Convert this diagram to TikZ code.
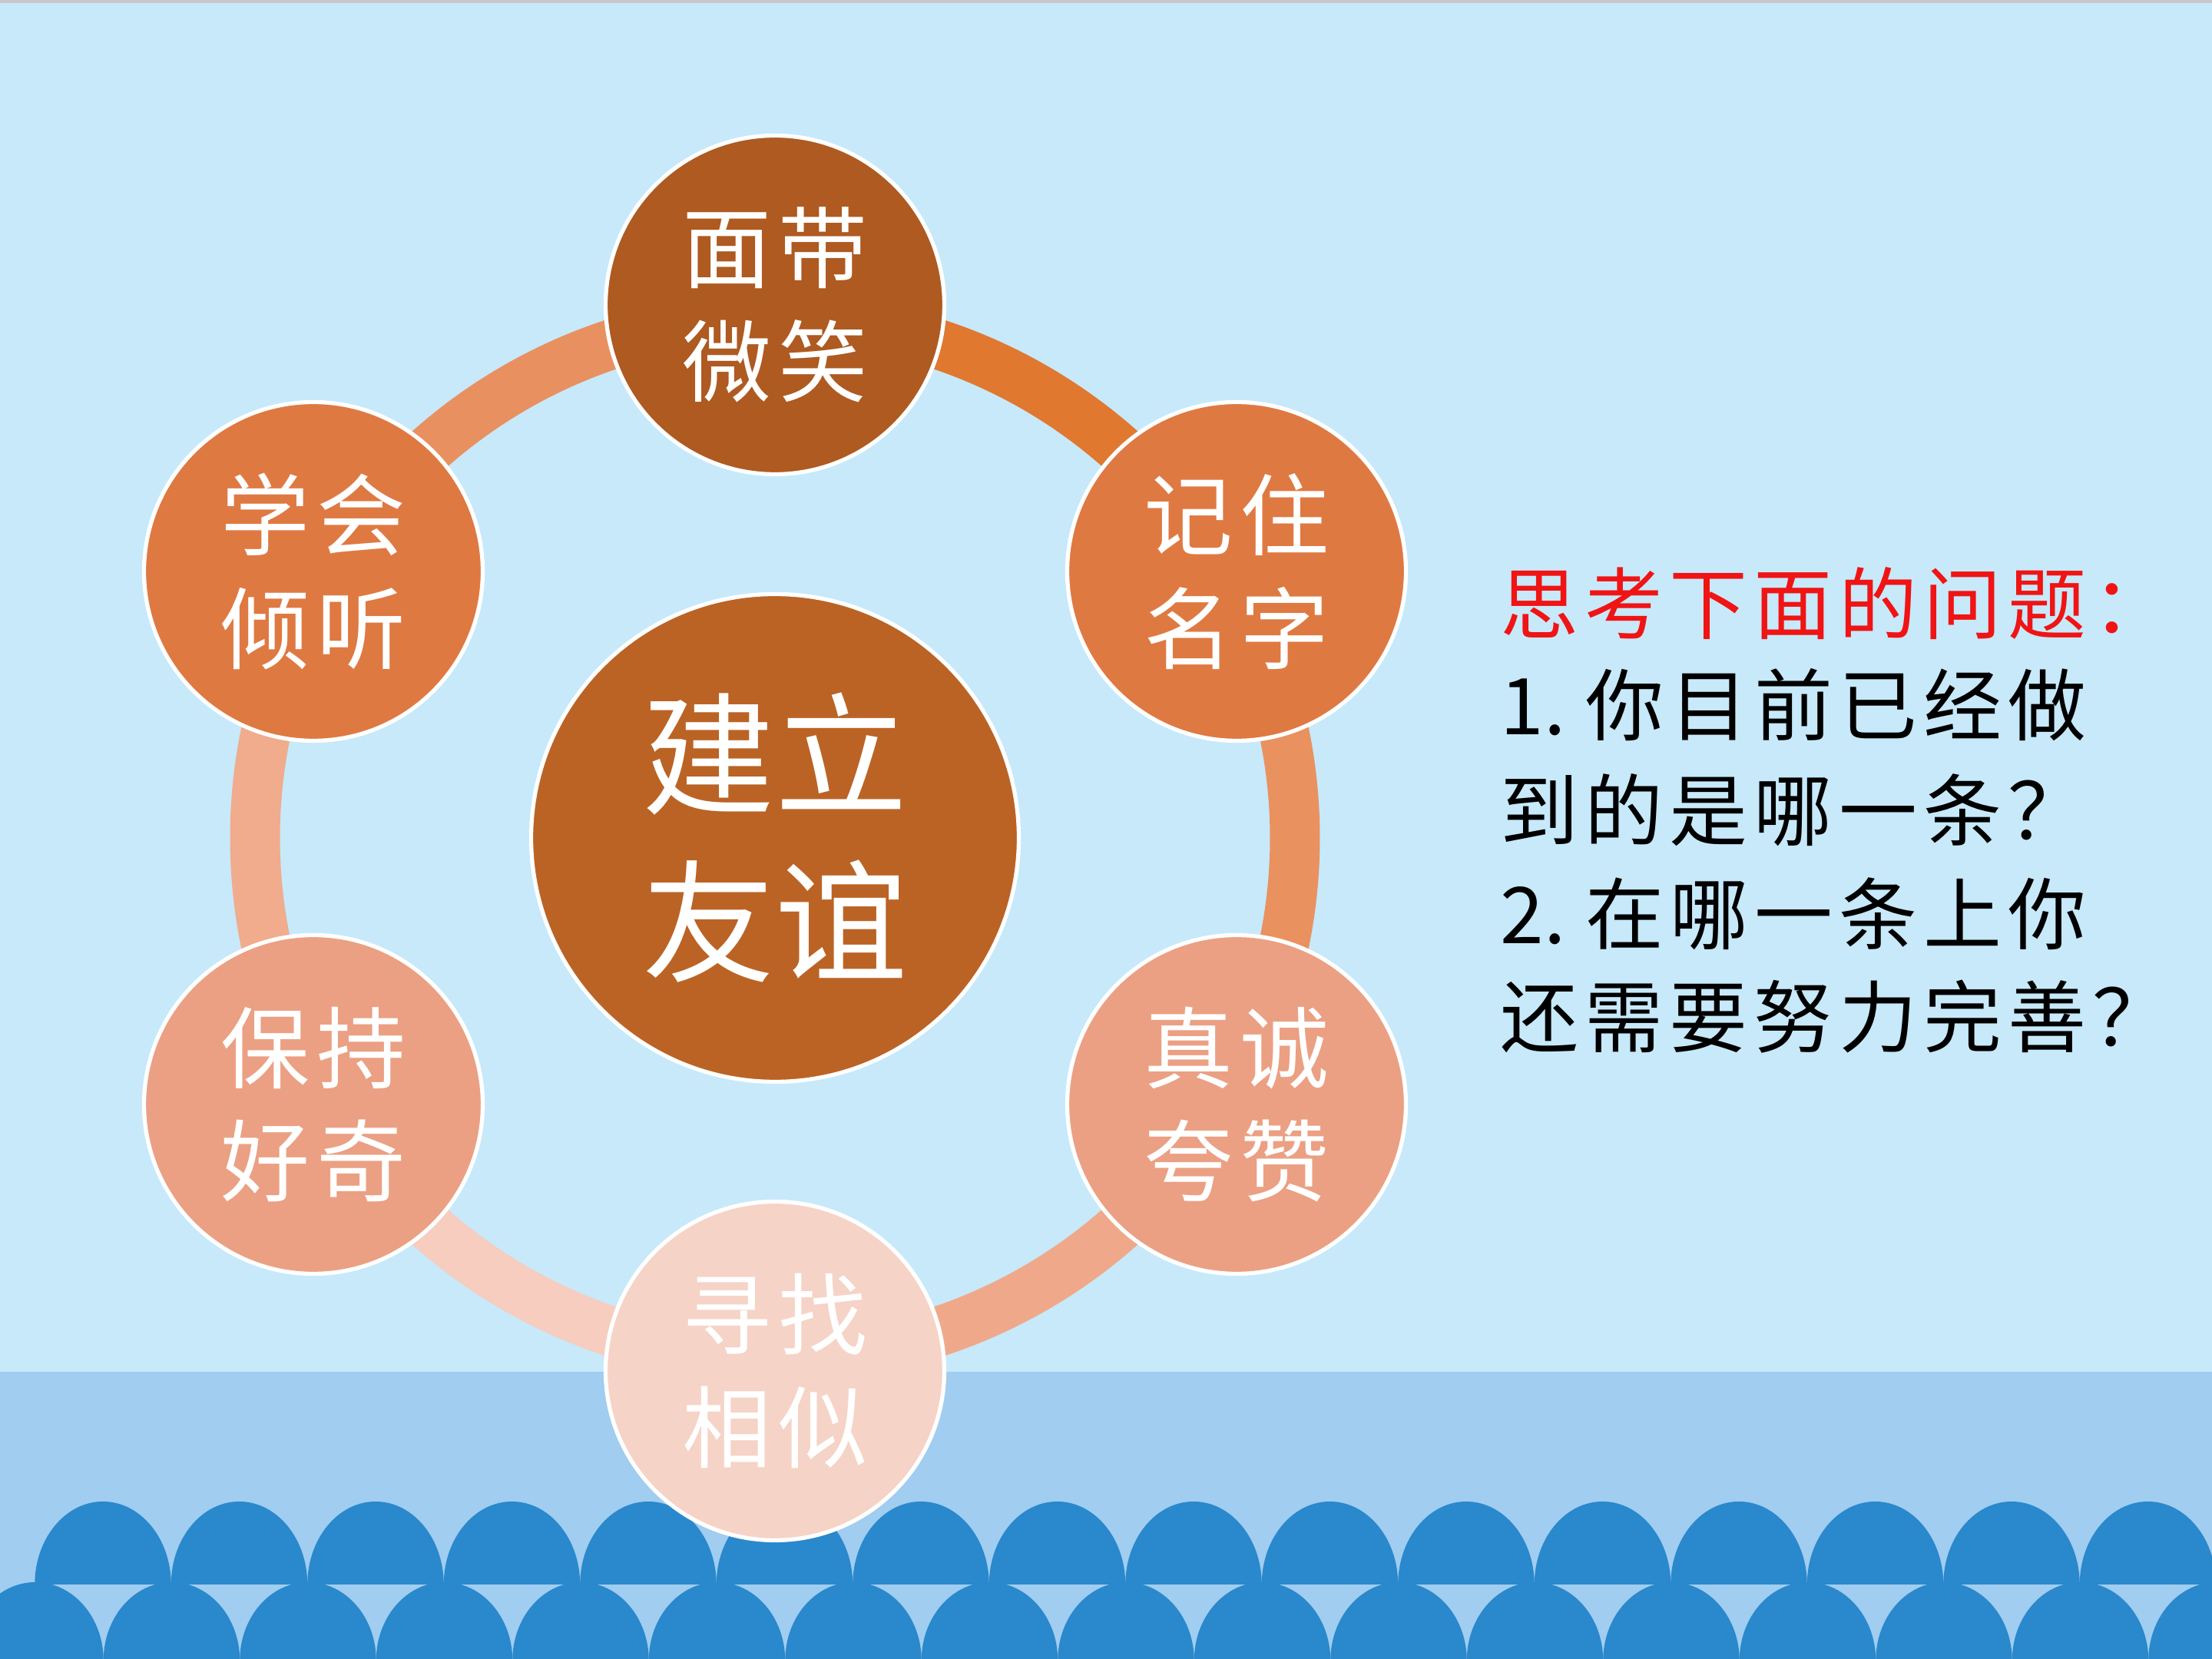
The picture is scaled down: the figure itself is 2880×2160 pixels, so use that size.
\documentclass[tikz,border=0pt]{standalone}
\usepackage{fontspec}
\setmainfont{Noto Sans CJK SC}
\definecolor{bg}{RGB}{199,233,250}
\definecolor{band}{RGB}{160,205,240}
\definecolor{wave}{RGB}{42,136,204}
\definecolor{topline}{RGB}{200,200,200}
\definecolor{hubc}{RGB}{187,99,37}
\definecolor{ctop}{RGB}{174,90,33}
\definecolor{cmid}{RGB}{223,121,66}
\definecolor{clow}{RGB}{235,160,131}
\definecolor{cbot}{RGB}{246,211,199}
\definecolor{sA}{RGB}{224,120,48}
\definecolor{sB}{RGB}{234,145,96}
\definecolor{sC}{RGB}{239,169,138}
\definecolor{sD}{RGB}{246,205,190}
\definecolor{sE}{RGB}{240,172,140}
\definecolor{sF}{RGB}{233,144,96}
\definecolor{qred}{RGB}{240,20,20}
\tikzset{
  ringseg/.style={line width=0.65cm, line cap=butt},
  smallc/.style={circle, draw=white, line width=1.5pt, minimum size=4.41cm, inner sep=0pt, text=white, align=center, font=\fontsize{33}{42}\selectfont},
  hubstyle/.style={circle, draw=white, line width=1.5pt, minimum size=6.35cm, inner sep=0pt, text=white, align=center, font=\fontsize{49}{62}\selectfont},
  qline/.style={anchor=west, inner sep=0pt, font=\fontsize{29}{36}\selectfont},
}
\newcommand{\gp}{\hspace{0.08em}}
\newcommand{\qs}{\hspace{0.08em}}
\begin{document}
\begin{tikzpicture}[x=0.1mm,y=0.1mm]
\useasboundingbox (0,0) rectangle (2880,2160);
\clip (0,0) rectangle (2880,2160);
% background
\fill[bg] (0,0) rectangle (2880,2160);
\fill[topline] (0,2156) rectangle (2880,2160);
\fill[band] (0,0) rectangle (2880,374);
% waves
\foreach \k in {0,...,15} {
  \fill[wave] ({134+177.5*\k-88.75},97) arc[start angle=180, end angle=0, x radius=88.75, y radius=108] -- cycle;
}
\foreach \k in {0,...,16} {
  \fill[wave] ({46+177.5*\k-88.75},-2) arc[start angle=180, end angle=0, x radius=88.75, y radius=102] -- cycle;
}
% hub
\node[hubstyle, fill=hubc] (hub) at (1009,1069) {建立\\友谊};
% ring coordinates
\path (hub.center) ++(90:677) coordinate (q90);
\path (hub.center) ++(30:677) coordinate (q30);
\path (hub.center) ++(-30:677) coordinate (qm30);
\path (hub.center) ++(-90:677) coordinate (qm90);
\path (hub.center) ++(-150:677) coordinate (qm150);
\path (hub.center) ++(150:677) coordinate (q150);
% ring segments
\draw[ringseg, draw=sA] (q90) arc[start angle=90, end angle=30, radius=677];
\draw[ringseg, draw=sB] (q30) arc[start angle=30, end angle=-30, radius=677];
\draw[ringseg, draw=sC] (qm30) arc[start angle=-30, end angle=-90, radius=677];
\draw[ringseg, draw=sD] (qm90) arc[start angle=-90, end angle=-150, radius=677];
\draw[ringseg, draw=sE] (qm150) arc[start angle=210, end angle=150, radius=677];
\draw[ringseg, draw=sF] (q150) arc[start angle=150, end angle=90, radius=677];
% outer circles
\node[smallc, fill=ctop] (n1) at (1009,1763) {面\gp 带\\微\gp 笑};
\node[smallc, fill=cmid] (n2) at (1610,1416) {记\gp 住\\名\gp 字};
\node[smallc, fill=clow] (n3) at (1610,722) {真\gp 诚\\夸\gp 赞};
\node[smallc, fill=cbot] (n4) at (1009,375) {寻\gp 找\\相\gp 似};
\node[smallc, fill=clow] (n5) at (408,722) {保\gp 持\\好\gp 奇};
\node[smallc, fill=cmid] (n6) at (408,1416) {学\gp 会\\倾\gp 听};
% question text
\node[qline, text=qred] (t1) at (1953,1374) {思\qs 考\qs 下\qs 面\qs 的\qs 问\qs 题\qs ：};
\node[qline] (t2) at (1953,1242) {1.\hspace{0.25em}你\qs 目\qs 前\qs 已\qs 经\qs 做};
\node[qline] (t3) at (1953,1105) {到\qs 的\qs 是\qs 哪\qs 一\qs 条\qs ？};
\node[qline] (t4) at (1953,970) {2.\hspace{0.25em}在\qs 哪\qs 一\qs 条\qs 上\qs 你};
\node[qline] (t5) at (1953,836) {还\qs 需\qs 要\qs 努\qs 力\qs 完\qs 善\qs ？};
\end{tikzpicture}
\end{document}
